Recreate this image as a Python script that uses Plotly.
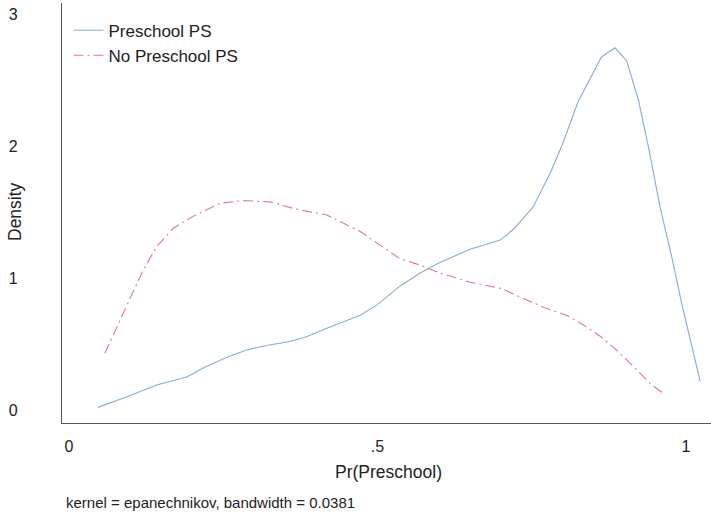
import plotly.graph_objects as go

# Kernel density estimates of Pr(Preschool), by group
ps_x = [0.047, 0.094, 0.142, 0.191, 0.218, 0.256, 0.288, 0.320, 0.358, 0.385,
        0.418, 0.445, 0.472, 0.500, 0.536, 0.569, 0.601, 0.650, 0.699, 0.720,
        0.752, 0.780, 0.800, 0.825, 0.844, 0.863, 0.885, 0.904, 0.923, 0.939,
        0.958, 0.977, 0.993, 1.009, 1.023]
ps_y = [0.02, 0.10, 0.19, 0.25, 0.32, 0.40, 0.456, 0.49, 0.52, 0.556,
        0.62, 0.67, 0.72, 0.80, 0.94, 1.04, 1.12, 1.22, 1.29, 1.37,
        1.54, 1.80, 2.02, 2.34, 2.51, 2.68, 2.75, 2.65, 2.35, 2.00,
        1.54, 1.16, 0.81, 0.48, 0.215]

nops_x = [0.058, 0.088, 0.120, 0.142, 0.169, 0.201, 0.245, 0.283, 0.326, 0.364,
          0.418, 0.472, 0.536, 0.569, 0.601, 0.650, 0.699, 0.769, 0.806, 0.834,
          0.861, 0.887, 0.915, 0.942, 0.963]
nops_y = [0.43, 0.73, 1.06, 1.24, 1.38, 1.47, 1.57, 1.59, 1.58, 1.53,
          1.48, 1.355, 1.15, 1.10, 1.04, 0.97, 0.925, 0.78, 0.72, 0.645,
          0.56, 0.456, 0.33, 0.20, 0.126]

x_ticks = [0, 0.5, 1]
x_tick_text = ["0", ".5", "1"]
y_ticks = [0, 1, 2, 3]
y_tick_text = ["0", "1", "2", "3"]

FONT = "Liberation Sans, Arial, sans-serif"

# plot area in pixels
W, H = 711, 512
ML, MR, MT, MB = 62, 0, 3, 89
plot_w = W - ML - MR
plot_h = H - MT - MB


def px_to_paper(px, py):
    return (px - ML) / plot_w, (H - MB - py) / plot_h


fig = go.Figure()
fig.add_trace(go.Scatter(
    x=ps_x, y=ps_y, mode="lines", name="Preschool PS",
    line=dict(color="#86acd2", width=1.1),
))
fig.add_trace(go.Scatter(
    x=nops_x, y=nops_y, mode="lines", name="No Preschool PS",
    line=dict(color="#e07a88", width=1.1, dash="10px,4px,2px,4px"),
))

ytitle_x, ytitle_y = px_to_paper(15, 212)
xtitle_x, xtitle_y = px_to_paper(388, 472)
note_x, note_y = px_to_paper(64, 502)

fig.update_layout(
    width=W, height=H,
    margin=dict(l=ML, r=MR, t=MT, b=MB),
    paper_bgcolor="white", plot_bgcolor="white",
    font=dict(family=FONT, size=16, color="#222222"),
    showlegend=True,
    legend=dict(
        x=0.010, y=0.977, xanchor="left", yanchor="top",
        bgcolor="rgba(0,0,0,0)", font=dict(size=17, color="#222222"),
        itemwidth=30, tracegroupgap=0,
    ),
    xaxis=dict(
        range=[-0.0113, 1.0405], tickvals=x_ticks, ticktext=x_tick_text,
        showgrid=False, zeroline=False, showline=True, linecolor="#555555",
        linewidth=1.3, ticks="", ticklabelstandoff=9,
        tickfont=dict(size=16),
    ),
    yaxis=dict(
        range=[-0.0987, 3.09], tickvals=y_ticks, ticktext=y_tick_text,
        showgrid=False, zeroline=False, showline=True, linecolor="#555555",
        linewidth=1.3, ticks="", ticklabelstandoff=40,
        tickfont=dict(size=16),
    ),
    annotations=[
        dict(text="Density", x=ytitle_x, y=ytitle_y, xref="paper", yref="paper",
             xanchor="center", yanchor="middle",
             showarrow=False, textangle=-90, font=dict(size=17.5)),
        dict(text="Pr(Preschool)", x=xtitle_x, y=xtitle_y, xref="paper", yref="paper",
             xanchor="center", yanchor="middle",
             showarrow=False, font=dict(size=17.5)),
        dict(text="kernel = epanechnikov, bandwidth = 0.0381", x=note_x, y=note_y,
             xref="paper", yref="paper", xanchor="left", yanchor="middle",
             showarrow=False, font=dict(size=15)),
    ],
)

fig.write_html("out.html")
